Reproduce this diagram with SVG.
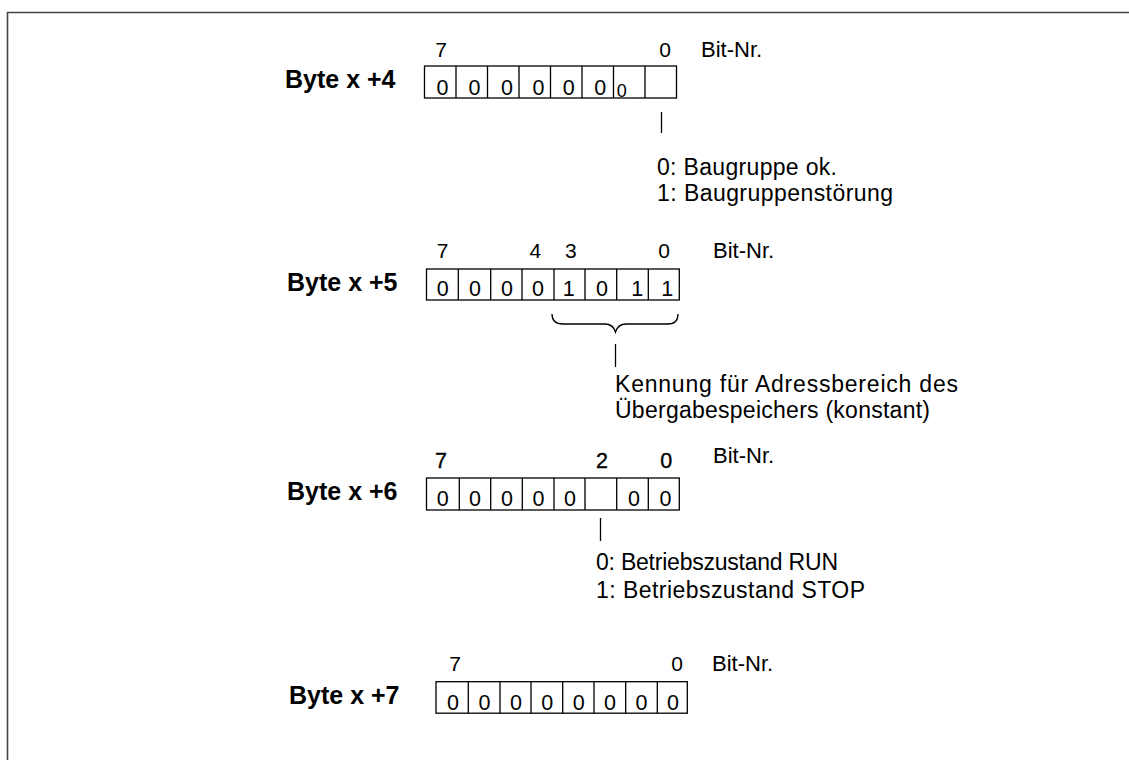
<svg xmlns="http://www.w3.org/2000/svg" width="1129" height="760" viewBox="0 0 1129 760">
<style>
text{font-family:"Liberation Sans",Arial,sans-serif;fill:#000}
.lbl{font-size:25px;font-weight:bold}
.hd{font-size:21px;text-anchor:middle}
.hdb{font-size:21.5px;text-anchor:middle;stroke:#000;stroke-width:0.35}
.bn{font-size:22px}
.d{font-size:21.5px;text-anchor:middle}
.t{font-size:23px}
.box{fill:none;stroke:#000;stroke-width:1.3}
.ln{fill:none;stroke:#000;stroke-width:1.3}
</style>
<rect width="1129" height="760" fill="#fff"/>
<path d="M7.5,760 V12.5 H1129" fill="none" stroke="#444" stroke-width="1.6"/>

<g id="byte4">
<text class="lbl" x="285" y="88">Byte x +4</text>
<text class="hd" x="441" y="57">7</text>
<text class="hd" x="665" y="57">0</text>
<text class="bn" x="701" y="57">Bit-Nr.</text>
<rect class="box" x="424.5" y="66" width="252" height="32"/>
<path class="box" d="M456,66V98M487.5,66V98M519,66V98M550.5,66V98M582,66V98M613.5,66V98M645,66V98"/>
<text class="d" x="442.5" y="95">0</text>
<text class="d" x="474.5" y="95">0</text>
<text class="d" x="507" y="95">0</text>
<text class="d" x="538.5" y="95">0</text>
<text class="d" x="568.7" y="95">0</text>
<text class="d" x="600.3" y="95">0</text>
<text class="d" x="621.7" y="97" style="font-size:18px">0</text>
</g>

<g id="note4">
<text class="t" x="657" y="175" textLength="180" lengthAdjust="spacing">0: Baugruppe ok.</text>
<text class="t" x="657" y="201" textLength="236" lengthAdjust="spacing">1: Baugruppenstörung</text>
</g>

<g id="byte5">
<text class="lbl" x="287" y="291">Byte x +5</text>
<text class="hd" x="442.5" y="258">7</text>
<text class="hd" x="535.3" y="258">4</text>
<text class="hd" x="570.8" y="258">3</text>
<text class="hd" x="664" y="258">0</text>
<text class="bn" x="713" y="258">Bit-Nr.</text>
<rect class="box" x="426.5" y="269" width="252.8" height="31"/>
<path class="box" d="M458.3,269V300M490.7,269V300M522,269V300M554,269V300M585,269V300M616.7,269V300M648.3,269V300"/>
<text class="d" x="442.7" y="296">0</text>
<text class="d" x="475" y="296">0</text>
<text class="d" x="507" y="296">0</text>
<text class="d" x="538" y="296">0</text>
<text class="d" x="568.7" y="296">1</text>
<text class="d" x="602" y="296">0</text>
<text class="d" x="637.3" y="296">1</text>
<text class="d" x="667.3" y="296">1</text>
</g>

<g id="note5">
<text class="t" x="615" y="392" textLength="343" lengthAdjust="spacing">Kennung für Adressbereich des</text>
<text class="t" x="615" y="418" textLength="315" lengthAdjust="spacing">Übergabespeichers (konstant)</text>
</g>

<g id="byte6">
<text class="lbl" x="287" y="500">Byte x +6</text>
<text class="hdb" x="441" y="468">7</text>
<text class="hdb" x="602" y="468">2</text>
<text class="hdb" x="666.3" y="468">0</text>
<text class="bn" x="713" y="463">Bit-Nr.</text>
<rect class="box" x="426.5" y="478" width="252.8" height="32"/>
<path class="box" d="M459.3,478V510M490.7,478V510M522.3,478V510M554,478V510M585,478V510M616.7,478V510M648.3,478V510"/>
<text class="d" x="442.7" y="506">0</text>
<text class="d" x="475" y="506">0</text>
<text class="d" x="507" y="506">0</text>
<text class="d" x="538.5" y="506">0</text>
<text class="d" x="570" y="506">0</text>
<text class="d" x="634" y="506">0</text>
<text class="d" x="665.5" y="506">0</text>
</g>

<g id="note6">
<text class="t" x="596" y="570" textLength="242" lengthAdjust="spacing">0: Betriebszustand RUN</text>
<text class="t" x="596" y="598" textLength="269" lengthAdjust="spacing">1: Betriebszustand STOP</text>
</g>

<g id="byte7">
<text class="lbl" x="289" y="704">Byte x +7</text>
<text class="hd" x="455" y="670.7">7</text>
<text class="hd" x="677" y="670.7">0</text>
<text class="bn" x="712" y="671">Bit-Nr.</text>
<rect class="box" x="436" y="681.7" width="251.3" height="31.5"/>
<path class="box" d="M468.3,681.7V713.2M500,681.7V713.2M531,681.7V713.2M562.7,681.7V713.2M594,681.7V713.2M625.7,681.7V713.2M657.3,681.7V713.2"/>
<text class="d" x="453" y="709.5">0</text>
<text class="d" x="484.5" y="709.5">0</text>
<text class="d" x="516" y="709.5">0</text>
<text class="d" x="547.3" y="709.5">0</text>
<text class="d" x="578.7" y="709.5">0</text>
<text class="d" x="610" y="709.5">0</text>
<text class="d" x="641.5" y="709.5">0</text>
<text class="d" x="673" y="709.5">0</text>
</g>

<g id="connectors">
<path class="ln" d="M661.5,112V133"/>
<path class="ln" d="M552,314 Q552,324 563,324 L605,324 Q613,324 615.5,332 Q618,324 626,324 L668,324 Q678,324 678,314"/>
<path class="ln" d="M615.5,344V367"/>
<path class="ln" d="M600.5,518V541"/>
</g>
</svg>
